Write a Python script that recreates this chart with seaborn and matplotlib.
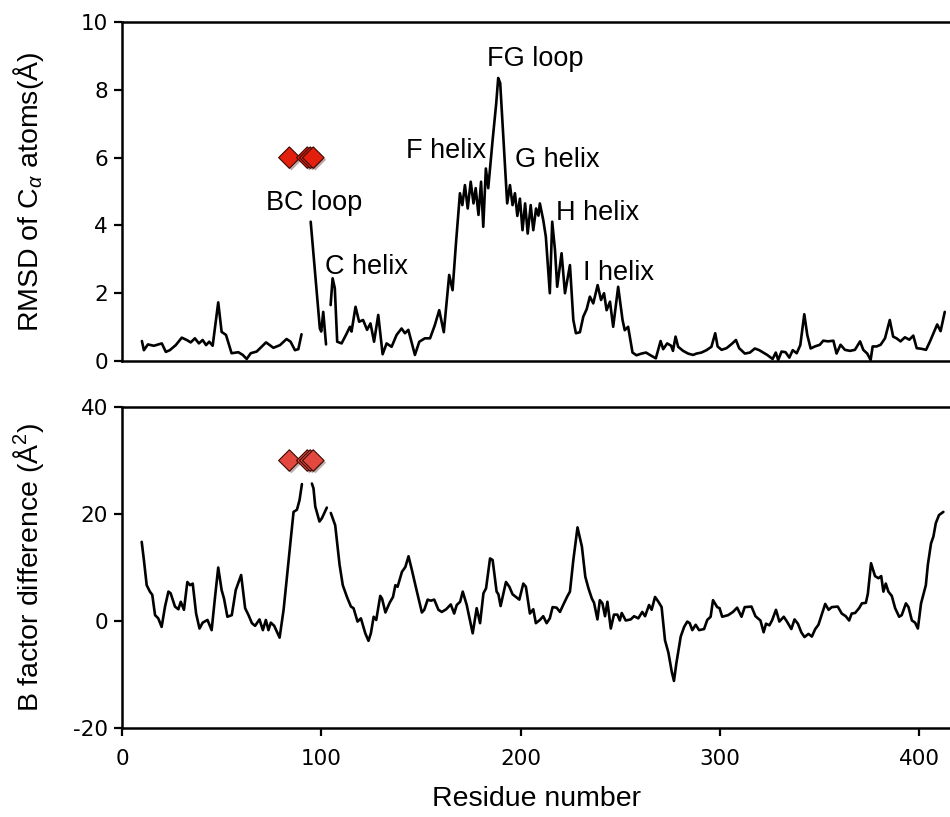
import numpy as np
import pandas as pd
import matplotlib
matplotlib.use("Agg")
import matplotlib.pyplot as plt
import matplotlib.patheffects as pe
import seaborn as sns

nan = np.nan

# RMSD of C-alpha atoms per residue (NaN = gap in the trace)
rmsd_residue = [10, 11, 13, 16, 20, 22, 24, 27, 30, 32.5, 34.5, 36.6, 38.6, 40.5, 42.2, 43.8, 45.5, 48.3, 50,
                52.2, 55, 58.4, 60.6, 62.6, 64.6, 67.6, 72.3, 76, 79.3, 82.6, 84.6, 86.8, 88.5, 90.1,
                nan,
                94.7, 99.3, 100, 101, 102.4,
                nan,
                104.7, 105.7, 106.8, 108, 110.2, 112.4, 114.4, 115.2, 117.2, 119, 121, 123, 124.7, 126.5,
                128.6, 130.8, 132.8, 135.3, 137.8, 140.3, 142, 143.7, 147, 149.2, 152, 154.6, 157, 159.2,
                161.5, 164.2, 165.9, 167.6, 169.6, 170.8, 172.1, 173.5, 175, 176.4, 177.5, 178.9, 180.2,
                181.3, 182.6, 183.8, 186, 187.8, 188.8, 189.8, 191.1, 193.3, 194.7, 196, 197.2, 198.4, 199.7,
                201, 202.3, 203.6, 205.1, 206.4, 207.8, 209, 209.7, 211.4, 212.7, 214.7, 215.9, 217.3, 218.4,
                220.6, 222.3, 224.8, 226.5, 227.8, 229.8, 231.5, 233.2, 234.8, 236.5, 238.7, 240.4, 241.9,
                243.2, 244.9, 246.5, 249, 251.2, 252.3, 254, 256.2, 258.2, 260.7, 263, 265.2, 267.9, 270.3,
                271.6, 273.6, 275.6, 276.5, 277.8, 279.1, 281.6, 284.1, 286.6, 288.3, 290.8, 293.3, 295.8,
                297.7, 298.9, 300.9, 303.4, 305.9, 308.1, 309.7, 312.6, 315.1, 317.6, 319.8, 321.8, 323.8,
                326.5, 328.1, 329.3, 331, 333, 334.9, 336.6, 338.6, 340.4, 342.4, 343.9, 345.6, 347.7,
                350.2, 351.9, 354.4, 357, 358.6, 360.6, 362.8, 365.3, 367.8, 370.4, 372, 374, 375.7, 376.7,
                378.7, 380.7, 382.9, 385.3, 387, 388.7, 390.7, 392.9, 395.1, 397.1, 398.8, 401.3, 403.5,
                405.5, 407.2, 409.1, 410.8, 412.9]
rmsd_value = [0.59, 0.32, 0.49, 0.45, 0.52, 0.27, 0.32, 0.47, 0.69, 0.62, 0.55, 0.67, 0.52, 0.62, 0.47, 0.57,
              0.45, 1.73, 0.86, 0.77, 0.23, 0.26, 0.18, 0.06, 0.23, 0.28, 0.55, 0.39, 0.47, 0.65, 0.57, 0.32,
              0.35, 0.79,
              nan,
              4.11, 0.96, 0.87, 1.45, 0.49,
              nan,
              1.65, 2.44, 2.15, 0.57, 0.52, 0.77, 1.01, 0.87, 1.6, 1.16, 1.21, 0.92, 1.11, 0.57,
              1.36, 0.2, 0.52, 0.42, 0.77, 0.96, 0.82, 0.92, 0.18, 0.57, 0.67, 0.67, 1.06, 1.5,
              0.85, 2.54, 2.09, 3.47, 4.95, 4.6, 5.19, 4.5, 5.29, 4.65, 5.1, 4.31, 5.29,
              3.96, 5.68, 5.1, 6.52, 7.6, 8.35, 8.2, 6.9, 4.65, 5.19, 4.6, 4.95, 4.28, 4.79,
              3.86, 4.65, 3.76, 4.6, 3.86, 4.5, 4.29, 4.65, 4.16, 3.67, 2.0, 4.11, 3.27, 2.19,
              3.18, 2.0, 2.83, 1.21, 0.82, 0.85, 1.31, 1.53, 1.9, 1.7, 2.24, 1.8, 2.0,
              1.5, 1.75, 1.01, 2.19, 1.21, 0.91, 1.01, 0.25, 0.17, 0.22, 0.25, 0.17, 0.08, 0.59,
              0.35, 0.52, 0.45, 0.30, 0.72, 0.42, 0.30, 0.22, 0.18, 0.22, 0.25, 0.32, 0.42,
              0.82, 0.43, 0.33, 0.38, 0.50, 0.62, 0.38, 0.22, 0.25, 0.37, 0.32, 0.25, 0.18,
              0.06, 0.25, 0.03, 0.28, 0.26, 0.1, 0.32, 0.23, 0.47, 1.38, 0.77, 0.37, 0.43,
              0.48, 0.60, 0.58, 0.6, 0.22, 0.48, 0.33, 0.3, 0.33, 0.58, 0.33, 0.22, 0.03, 0.43,
              0.43, 0.48, 0.67, 1.21, 0.72, 0.67, 0.58, 0.70, 0.63, 0.75, 0.38, 0.36, 0.33,
              0.58, 0.82, 1.08, 0.88, 1.45]

# B factor difference per residue
bfac_residue = [9.9, 11, 12.4, 14, 15.2, 16.6, 18.2, 19.9, 21.6, 23.3, 24.4, 26.6, 28.3, 29.5, 31.1, 32.8,
                34.2, 35.5, 37.2, 38.9, 40.5, 42.9, 45, 46.7, 48.3, 50, 51.2, 52.9, 55.1, 57.1, 59.8, 61.8,
                63.5, 65.2, 66.8, 69, 70.7, 72.2, 73.5, 74.7, 76.4, 79.1, 81.1, 82.8, 84.4, 86.1, 87.8,
                89.1, 90.3,
                nan,
                95.3, 96.1, 97, 99.1, 100.3, 102.8,
                nan,
                104.8, 107, 109.2, 110.8, 112.9, 114.9, 116.2, 118.2, 119.9, 122.1, 123.7, 124.9, 126.3,
                127.6, 129.6, 130.5, 132.2, 134.3, 136, 137.2, 138.3, 140.5, 142.2, 143.8, 145.5, 148,
                150.5, 151.7, 153.4, 155, 156.7, 158.8, 160.5, 162.7, 165, 166.7, 168, 169.7, 171, 173,
                174.4, 176, 178, 179.7, 181.4, 182.7, 184.7, 186, 188, 188.9, 190, 192.7, 194.4, 196,
                199.4, 201.4, 202.7, 204.7, 206.4, 207.7, 209.7, 211.4, 213.1, 214.7, 216.1, 218.1, 219.8,
                221.4, 223.6, 224.8, 226.5, 228.6, 230.8, 232.5, 234.1, 235.8, 236.9, 238.6, 239.8, 241.1,
                242.4, 243.6, 245.3, 246.9, 248.6, 249.8, 250.8, 252.8, 255.3, 257, 259.1, 261.1, 262.5,
                264.5, 265.8, 267.5, 269.2, 270.8, 272.5, 274.2, 275.9, 277, 278.2, 280.4, 282.1, 283.7,
                284.9, 286.2, 287.9, 289.6, 292.1, 293.7, 295.4, 296.6, 298.7, 299.9, 301.2, 304.2, 306.6,
                308.7, 310.9, 312.5, 315.9, 317.9, 320.4, 322, 323.2, 324.9, 326.2, 328.2, 329.9, 332.1,
                333.7, 335.9, 337.5, 339.2, 340.9, 342.5, 344.5, 346.2, 347.9, 349.5, 352.9, 354.6, 356.2,
                359.2, 361.2, 363.2, 364.9, 366.2, 367.9, 369.9, 371.3, 373.3, 374.3, 375.9, 377.9, 379.6,
                381, 382.1, 383.3, 384.6, 386.3, 388, 390, 391.3, 393.4, 394.7, 396.4, 398, 399.4, 401,
                403.4, 404.4, 406, 407.2, 408.4, 410, 412.2]
bfac_value = [14.8, 11.4, 6.7, 5.5, 4.9, 1.1, 0.5, -1.1, 2.7, 5.5, 5.2, 2.7, 2.2, 3.6, 2.1, 7.3,
              6.7, 7.0, 1.4, -1.4, -0.3, 0.2, -1.7, 4.5, 10.0, 5.8, 4.2, 0.8, 1.1, 5.8, 8.6, 2.4,
              1.1, -0.4, -0.9, 0.3, -1.7, 0.2, -1.7, -0.3, -0.9, -3.1, 2.1, 8.3, 14.2, 20.4, 20.8,
              22.6, 25.6,
              nan,
              25.7, 24.8, 21.4, 18.6, 19.2, 21.2,
              nan,
              20.2, 17.9, 10.5, 6.7, 4.5, 2.7, 2.4, -0.1, 0.5, -2.3, -3.7, -2.3, 0.8,
              0.2, 4.7, 4.2, 1.6, 3.4, 4.5, 6.7, 6.4, 9.2, 10.1, 12.1, 9.5, 5.5,
              1.6, 2.1, 4.0, 3.8, 4.0, 2.1, 1.7, 2.2, 3.1, 1.4, 3.0, 3.6, 5.5, 3.0,
              0.5, -2.3, 2.4, -0.4, 5.2, 6.1, 11.7, 11.4, 5.5, 5.0, 2.8, 7.3, 6.4, 5.0,
              4.0, 7.0, 6.4, 1.4, 2.2, -0.4, 0.2, 0.9, -0.4, 0.5, 2.6, 2.5, 1.7,
              3.0, 4.7, 5.5, 11.4, 17.5, 13.9, 8.3, 6.1, 4.2, 3.4, 0.3, 3.9, 3.3,
              0.9, 3.6, -1.4, 1.2, 1.2, 0.1, 1.5, 0.1, 0.3, 0.9, 0.5, 1.7, 0.9,
              3.0, 2.1, 4.5, 3.6, 2.6, -3.6, -5.9, -9.5, -11.2, -7.9, -2.9, -1.1, -0.1,
              -0.4, -1.7, -0.7, -1.7, -1.5, 0.2, 0.8, 3.9, 2.6, 2.4, 0.8, 1.1, 1.7,
              2.5, 0.8, 2.6, 2.7, 0.9, 0.1, -2.1, -0.5, -0.8, 0.1, 2.1, -0.1, 0.8,
              -0.1, -1.5, 0.3, -0.5, -2.1, -3.0, -2.4, -2.9, -1.5, -0.7, 3.2, 2.1, 2.6,
              2.7, 1.4, 0.9, 0.1, 1.4, 1.5, 2.4, 3.3, 3.4, 5.1, 10.8, 8.4, 8.0,
              8.4, 5.5, 7.0, 5.5, 4.7, 2.4, 0.8, 1.1, 3.3, 2.6, 0.1, -0.3, -1.4, 3.3,
              6.7, 10.5, 14.5, 15.8, 18.3, 19.8, 20.4]

# marked residues (diamonds)
site_residue = [84, 93, 94.5, 96]
site_rmsd = [6, 6, 6, 6]
site_bfac = [30, 30, 30, 30]

# secondary structure labels in the RMSD panel
region_labels = ["BC loop", "C helix", "F helix", "FG loop", "G helix", "H helix", "I helix"]
label_residue = [96.3, 122.9, 162.8, 207.5, 218.5, 238.6, 249.4]
label_rmsd = [4.66, 2.77, 6.19, 8.91, 5.93, 4.37, 2.61]


def to_frame(res, val):
    df = pd.DataFrame({"residue": res, "value": val})
    df["segment"] = df["value"].isna().cumsum()
    return df.dropna()


sns.set_style("ticks")
plt.rcParams["font.family"] = ["Liberation Sans", "DejaVu Sans"]
plt.rcParams["mathtext.fontset"] = "custom"
plt.rcParams["mathtext.rm"] = "Liberation Sans"
plt.rcParams["mathtext.it"] = "Liberation Sans:italic"
plt.rcParams["axes.unicode_minus"] = False
plt.rcParams["text.color"] = "black"
plt.rcParams["axes.labelcolor"] = "black"
plt.rcParams["xtick.color"] = "black"
plt.rcParams["ytick.color"] = "black"

fig = plt.figure(figsize=(9.5, 8.17), dpi=100)
ax1 = fig.add_axes([0.1284, 0.5581, 0.8726, 0.4149])
ax2 = fig.add_axes([0.1284, 0.1089, 0.8726, 0.3929])

shadow = [pe.SimplePatchShadow(offset=(1.5, -1.5), alpha=0.35), pe.Normal()]

# top panel: RMSD
sns.lineplot(data=to_frame(rmsd_residue, rmsd_value), x="residue", y="value", units="segment",
             estimator=None, sort=False, color="black", linewidth=1.9, ax=ax1)
sns.scatterplot(x=site_residue, y=site_rmsd, marker="D", s=120, color="#e3200d",
                edgecolor="#3a0a05", linewidth=0.8, zorder=3, ax=ax1)
ax1.collections[-1].set_path_effects(shadow)
for txt, xr, yr in zip(region_labels, label_residue, label_rmsd):
    ax1.text(xr, yr, txt, ha="center", va="center", fontsize=19.5)

ax1.set_xlim(0, 416)
ax1.set_ylim(0, 10)
ax1.set_yticks([0, 2, 4, 6, 8, 10])
ax1.set_xticks([])
ax1.set_xlabel("")
ax1.set_ylabel("RMSD of C$_{\\alpha}$ atoms(Å)", fontsize=20.5)
ax1.yaxis.set_label_coords(-0.092, 0.5)

# bottom panel: B factor difference
sns.lineplot(data=to_frame(bfac_residue, bfac_value), x="residue", y="value", units="segment",
             estimator=None, sort=False, color="black", linewidth=1.9, ax=ax2)
sns.scatterplot(x=site_residue, y=site_bfac, marker="D", s=120, color="#e2483d",
                edgecolor="#3a0a05", linewidth=0.8, zorder=3, ax=ax2)
ax2.collections[-1].set_path_effects(shadow)

ax2.set_xlim(0, 416)
ax2.set_ylim(-20, 40)
ax2.set_yticks([-20, 0, 20, 40])
ax2.set_xticks([0, 100, 200, 300, 400])
ax2.set_xlabel("Residue number", fontsize=20.5, labelpad=12)
ax2.set_ylabel("B factor difference (Å$^2$)", fontsize=20.5)
ax2.yaxis.set_label_coords(-0.092, 0.5)

for ax in (ax1, ax2):
    ax.spines["right"].set_visible(False)
    for side in ("left", "top", "bottom"):
        ax.spines[side].set_linewidth(1.8)
        ax.spines[side].set_color("black")
    ax.tick_params(axis="both", direction="out", length=6, width=1.6, color="black",
                   labelsize=15.5, pad=4, labelcolor="black")
    ax.tick_params(axis="x", pad=9)
    for lab in ax.get_xticklabels() + ax.get_yticklabels():
        lab.set_fontfamily("DejaVu Sans")

fig.savefig("out.png", dpi=100)
